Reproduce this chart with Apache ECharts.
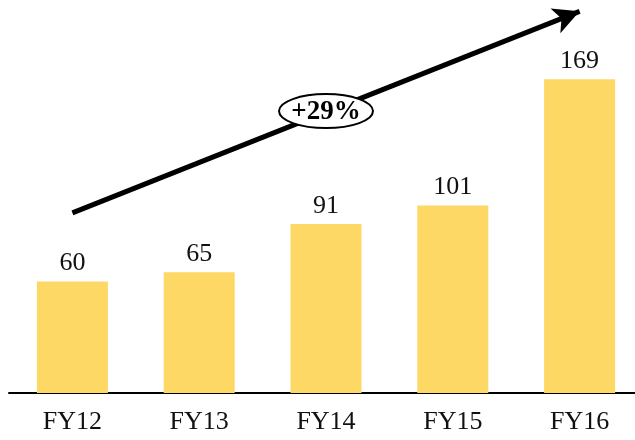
<!DOCTYPE html>
<html><head><meta charset="utf-8">
<script src="https://cdn.jsdelivr.net/npm/echarts@6/dist/echarts.min.js"></script>
<style>html,body{margin:0;padding:0;background:#fff;overflow:hidden}#c{width:645px;height:440px}</style>
</head><body><div id="c"></div>
<script>
var categories = ['FY12','FY13','FY14','FY15','FY16'];
var values = [60, 65, 91, 101, 169];
var growthLabel = '+29%';
var arrowStart = [0, 97];
var arrowEnd = [4, 205.5];

var FONT = '"Liberation Serif", "Times New Roman", serif';
var chart = echarts.init(document.getElementById('c'));
chart.setOption({
  animation: false,
  grid: {left: 9, right: 2, top: 3, bottom: 47},
  xAxis: {
    type: 'category', data: categories,
    axisLine: {lineStyle: {color: '#000', width: 2}},
    axisTick: {show: false},
    axisLabel: {color: '#111', fontFamily: FONT, fontSize: 26, margin: 16}
  },
  yAxis: {type: 'value', min: 0, max: 210, show: false, splitLine: {show: false}},
  series: [{
    type: 'bar', data: values, barWidth: 71,
    itemStyle: {color: '#FDD865'},
    label: {show: true, position: 'top', distance: 5, color: '#111', fontFamily: FONT, fontSize: 26},
    markLine: {
      silent: true,
      symbol: ['none', 'arrow'],
      symbolSize: [20, 26],
      label: {show: false},
      lineStyle: {color: '#000', width: 5, type: 'solid'},
      data: [[{coord: arrowStart}, {coord: arrowEnd}]]
    }
  }]
});
var p1 = chart.convertToPixel({gridIndex: 0}, arrowStart);
var p2 = chart.convertToPixel({gridIndex: 0}, arrowEnd);
var cx = (p1[0] + p2[0]) / 2, cy = (p1[1] + p2[1]) / 2 - 1;
chart.setOption({
  graphic: [
    {type: 'ellipse', shape: {cx: cx, cy: cy, rx: 47, ry: 17}, style: {fill: '#fff', stroke: '#000', lineWidth: 2}, z: 100},
    {type: 'text', x: cx, y: cy + 1, style: {text: growthLabel, fontFamily: FONT, fontSize: 27, fontWeight: 'bold', fill: '#000', align: 'center', verticalAlign: 'middle'}, z: 101}
  ]
});
</script></body></html>
